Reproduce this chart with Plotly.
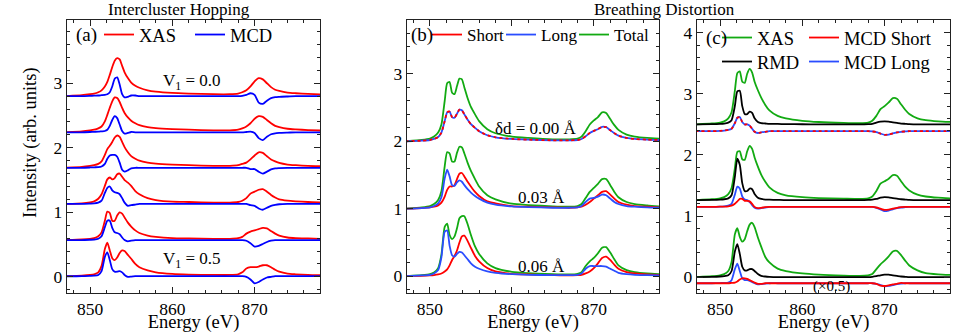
import plotly.graph_objects as go

SERIF = "Liberation Serif"

# energy grid (eV), shared by every curve
energy = [847, 849, 850, 850.5, 851, 851.4, 851.8, 852.1, 852.4, 852.7, 853.0, 853.3,
          853.6, 853.9, 854.2, 854.6, 855.0, 855.5, 856, 857, 858, 860, 862, 865,
          867, 868, 868.5, 869, 869.5, 870, 870.5, 871, 871.5, 872, 872.5, 873, 874,
          875, 876.5, 878]

# ---- (a) Intercluster hopping: V1 = 0.0 (top) ... 0.5 (bottom)
hop_offsets = [2.80, 2.24, 1.69, 1.13, 0.57, 0.01]
hop_xas = [
    [0, .015, .03, .04, .06, .09, .15, .22, .33, .45, .55, .59, .57, .47, .37, .28, .21, .16, .13, .09, .07, .05, .04, .03,
     .03, .04, .06, .09, .15, .23, .28, .26, .20, .14, .10, .08, .055, .045, .035, .028],
    [0, .015, .03, .04, .06, .09, .17, .27, .38, .48, .54, .53, .47, .38, .30, .23, .18, .14, .11, .08, .065, .05, .04, .03,
     .03, .04, .06, .09, .14, .21, .25, .24, .19, .14, .10, .08, .055, .045, .035, .028],
    [0, .015, .03, .04, .06, .10, .20, .29, .34, .40, .47, .50, .48, .40, .32, .24, .18, .14, .11, .08, .065, .05, .04, .03,
     .03, .04, .06, .08, .13, .19, .24, .23, .18, .13, .10, .075, .05, .04, .03, .025],
    [0, .01, .025, .04, .08, .15, .28, .38, .41, .38, .40, .46, .47, .42, .37, .33, .28, .20, .15, .09, .06, .035, .03, .02,
     .02, .03, .05, .09, .16, .19, .22, .23, .19, .14, .10, .07, .05, .04, .03, .025],
    [0, .01, .02, .03, .06, .12, .30, .44, .42, .30, .30, .38, .43, .41, .35, .27, .21, .15, .11, .07, .05, .03, .025, .02,
     .02, .03, .05, .10, .13, .15, .17, .19, .18, .14, .10, .07, .04, .03, .025, .02],
    [0, .01, .02, .03, .06, .16, .42, .52, .40, .28, .25, .29, .36, .40, .39, .33, .27, .19, .14, .09, .06, .035, .025, .02,
     .02, .03, .06, .12, .14, .14, .15, .17, .17, .14, .10, .07, .04, .03, .02, .015],
]
hop_mcd = [
    [0, 0, .005, .008, .01, .015, .02, .03, .06, .15, .27, .29, .18, .03, -.02, -.01, .01, .01, 0, 0, 0, 0, 0, 0,
     0, 0, .005, .02, .045, .02, -.10, -.12, -.07, -.03, -.015, -.01, -.005, 0, 0, 0],
    [0, 0, .005, .008, .01, .015, .02, .04, .10, .19, .25, .22, .12, .02, -.02, -.01, .005, 0, 0, 0, 0, 0, 0, 0,
     0, 0, 0, .005, .01, -.01, -.09, -.12, -.07, -.03, -.015, -.01, -.005, 0, 0, 0],
    [0, 0, .005, .008, .01, .02, .06, .14, .19, .20, .20, .17, .08, -.03, -.06, -.04, -.01, 0, 0, 0, 0, 0, 0, 0,
     0, 0, 0, 0, -.02, -.02, -.06, -.09, -.06, -.025, -.01, -.005, 0, 0, 0, 0],
    [0, 0, .005, .008, .02, .05, .17, .25, .27, .21, .18, .17, .15, .09, .02, -.03, -.02, -.01, 0, 0, 0, 0, 0, 0,
     0, 0, 0, 0, -.02, -.03, -.07, -.09, -.06, -.03, -.015, -.005, 0, 0, 0, 0],
    [0, 0, .005, .008, .02, .06, .20, .30, .30, .19, .12, .11, .09, .04, 0, -.02, -.01, 0, 0, 0, 0, 0, 0, 0,
     0, 0, 0, -.01, -.05, -.10, -.09, -.06, -.03, -.01, 0, 0, 0, 0, 0, 0],
    [0, 0, .005, .008, .02, .08, .30, .37, .25, .11, .07, .07, .08, .06, .02, -.01, -.005, 0, 0, 0, 0, 0, 0, 0,
     0, 0, 0, -.01, -.05, -.11, -.09, -.05, -.02, -.01, 0, 0, 0, 0, 0, 0],
]
hop_labels = ["V<sub>1</sub> = 0.0", "V<sub>1</sub> = 0.5"]

# ---- (b) Breathing distortion: dd = 0.00, 0.03, 0.06 A
br_offsets = [2.0, 1.0, 0.0]
br_short = [
    [0, .01, .02, .035, .065, .13, .30, .43, .44, .36, .35, .41, .47, .46, .40, .32, .255, .20, .15, .09, .06, .035, .025, .015,
     .015, .02, .035, .075, .125, .155, .18, .215, .21, .165, .12, .085, .05, .035, .025, .02],
    [0, .01, .02, .03, .05, .09, .18, .28, .33, .33, .35, .44, .52, .53, .48, .40, .33, .25, .19, .11, .08, .04, .03, .02,
     .015, .02, .03, .06, .10, .15, .20, .25, .26, .21, .15, .10, .06, .04, .03, .02],
    [0, .005, .01, .015, .025, .04, .07, .10, .16, .24, .30, .38, .50, .59, .60, .52, .42, .30, .22, .12, .07, .035, .025, .015,
     .01, .015, .02, .04, .07, .12, .19, .27, .29, .24, .17, .11, .06, .04, .025, .02],
]
br_long = [
    br_short[0],
    [0, .01, .02, .04, .08, .17, .45, .58, .48, .35, .34, .39, .42, .40, .35, .29, .24, .19, .15, .09, .06, .035, .025, .015,
     .015, .02, .04, .10, .15, .16, .18, .21, .20, .15, .10, .07, .04, .03, .02, .015],
    [0, .01, .02, .04, .09, .28, .66, .68, .45, .31, .29, .33, .36, .35, .31, .25, .19, .14, .11, .07, .05, .03, .02, .015,
     .015, .02, .04, .11, .15, .15, .15, .15, .14, .11, .08, .05, .03, .02, .015, .01],
]
br_total = [
    [0, .02, .04, .07, .13, .25, .60, .86, .88, .72, .70, .82, .93, .92, .80, .64, .51, .40, .30, .18, .12, .07, .05, .03,
     .03, .04, .07, .15, .25, .31, .36, .43, .42, .33, .24, .17, .10, .07, .05, .04],
    [0, .02, .04, .07, .13, .26, .63, .84, .82, .70, .70, .83, .92, .91, .82, .68, .56, .44, .33, .20, .14, .075, .055, .035,
     .03, .04, .07, .16, .25, .31, .37, .44, .44, .35, .25, .17, .10, .07, .05, .035],
    [0, .015, .03, .055, .12, .32, .73, .78, .61, .55, .59, .71, .86, .89, .89, .77, .61, .44, .33, .19, .12, .065, .045, .03,
     .025, .035, .06, .15, .22, .27, .34, .42, .43, .35, .25, .16, .09, .06, .04, .03],
]
br_labels = ["\u03b4d = 0.00 \u00c5", "0.03 \u00c5", "0.06 \u00c5"]

# ---- (c) XAS, RMD and MCD (x0.5) for the same distortions
c_xas_offsets = [2.50, 1.26, 0.0]
c_mcd_offsets = [2.39, 1.15, -0.10]
c_xas = [
    [0, .015, .03, .05, .10, .20, .55, .84, .87, .70, .68, .83, .91, .85, .70, .56, .44, .32, .23, .14, .10, .06, .04, .025,
     .02, .03, .06, .14, .25, .30, .36, .43, .42, .33, .24, .17, .10, .07, .05, .04],
    [0, .015, .03, .05, .10, .20, .52, .79, .80, .67, .66, .80, .89, .84, .70, .55, .42, .30, .21, .12, .08, .05, .035, .025,
     .02, .03, .06, .15, .27, .31, .35, .41, .40, .31, .22, .16, .09, .06, .04, .03],
    [0, .015, .03, .05, .10, .25, .70, .80, .66, .58, .62, .75, .86, .89, .82, .65, .50, .33, .24, .14, .10, .06, .04, .025,
     .02, .03, .05, .13, .21, .27, .34, .42, .43, .36, .27, .19, .11, .065, .045, .035],
]
c_rmd = [
    [0, .005, .01, .015, .03, .07, .30, .54, .55, .30, .17, .17, .21, .19, .10, .04, .02, .015, .01, .008, .005, .003, 0, 0,
     0, .005, .01, .03, .045, .05, .045, .035, .025, .015, .01, .005, 0, 0, 0, 0],
    [0, .005, .01, .015, .03, .08, .38, .68, .58, .28, .15, .15, .19, .18, .10, .04, .02, .01, .01, .005, 0, 0, 0, 0,
     0, .005, .01, .02, .04, .05, .045, .035, .025, .015, .01, .005, 0, 0, 0, 0],
    [0, .005, .01, .015, .03, .10, .42, .54, .38, .17, .11, .11, .13, .13, .10, .05, .02, .01, .005, 0, 0, 0, 0, 0,
     0, 0, .005, .015, .03, .04, .04, .03, .02, .01, .005, 0, 0, 0, 0, 0],
]
c_mcd_short = [
    [0, 0, .005, .01, .02, .04, .13, .22, .23, .15, .11, .11, .09, .04, -.01, -.03, -.02, -.01, 0, 0, 0, 0, 0, 0,
     0, 0, -.005, -.015, -.04, -.06, -.055, -.035, -.02, -.01, -.005, 0, 0, 0, 0, 0],
    [0, 0, .003, .005, .01, .02, .05, .09, .13, .13, .10, .10, .09, .05, 0, -.02, -.015, -.005, 0, 0, 0, 0, 0, 0,
     0, 0, 0, -.01, -.03, -.05, -.045, -.03, -.015, -.005, 0, 0, 0, 0, 0, 0],
    [0, 0, 0, 0, 0, .005, .01, .03, .06, .08, .08, .07, .05, .03, .01, -.01, -.01, 0, 0, 0, 0, 0, 0, 0,
     0, 0, 0, -.01, -.04, -.045, -.035, -.02, -.01, .005, 0, 0, 0, 0, 0, 0],
]
c_mcd_long = [
    c_mcd_short[0],
    [0, 0, .005, .01, .02, .05, .20, .33, .30, .17, .12, .11, .08, .03, -.015, -.03, -.02, -.01, 0, 0, 0, 0, 0, 0,
     0, 0, 0, -.015, -.04, -.07, -.06, -.04, -.02, -.01, -.005, 0, 0, 0, 0, 0],
    [0, 0, .003, .005, .01, .05, .23, .32, .20, .08, .05, .05, .04, .02, 0, -.02, -.015, -.005, 0, 0, 0, 0, 0, 0,
     0, 0, 0, -.01, -.03, -.05, -.045, -.03, -.015, -.005, 0, 0, 0, 0, 0, 0],
]

RED = "#ff0000"
BLUE = "#0000ff"
LBLUE = "#2a4dff"
GREEN = "#12aa12"
BLACK = "#000000"


def shifted(vals, off):
    return [off + v for v in vals]


def line(x, y, color, ax, dash="solid", width=1.8):
    return go.Scatter(x=x, y=y, mode="lines", showlegend=False,
                      line=dict(color=color, width=width, dash=dash, shape="spline", smoothing=0.6),
                      xaxis="x" + ax, yaxis="y" + ax, hoverinfo="skip")


fig = go.Figure()

# panel a
for i, off in enumerate(hop_offsets):
    fig.add_trace(line(energy, shifted(hop_xas[i], off), RED, ""))
    fig.add_trace(line(energy, shifted(hop_mcd[i], off), BLUE, ""))

# panel b
for i, off in enumerate(br_offsets):
    fig.add_trace(line(energy, shifted(br_total[i], off), GREEN, "2"))
    if i == 0:
        fig.add_trace(line(energy, shifted(br_long[i], off), LBLUE, "2"))
        fig.add_trace(line(energy, shifted(br_short[i], off), RED, "2", dash="3px,3px"))
    else:
        fig.add_trace(line(energy, shifted(br_short[i], off), RED, "2"))
        fig.add_trace(line(energy, shifted(br_long[i], off), LBLUE, "2"))

# panel c
for i in range(3):
    fig.add_trace(line(energy, shifted(c_xas[i], c_xas_offsets[i]), GREEN, "3"))
    fig.add_trace(line(energy, shifted(c_rmd[i], c_xas_offsets[i]), BLACK, "3"))
    fig.add_trace(line(energy, shifted(c_mcd_long[i], c_mcd_offsets[i]), LBLUE, "3"))
    fig.add_trace(line(energy, shifted(c_mcd_short[i], c_mcd_offsets[i]), RED, "3",
                       dash="3px,3px" if i == 0 else "solid"))

W, H = 969, 333


def px(x):
    return x / W


def py(y):
    return 1 - y / H


# one legend per entry so each can sit where the original has it
# (name, colour, axis suffix, text left px, centre y px, font size)
legend_items = [("XAS", RED, "", 145, 35, 18.5), ("MCD", BLUE, "", 236, 35, 18.5),
                ("Short", RED, "2", 473, 35, 17), ("Long", LBLUE, "2", 547, 35, 17),
                ("Total", GREEN, "2", 620, 35, 17),
                ("XAS", GREEN, "3", 763, 38, 18.5), ("MCD Short", RED, "3", 850, 38, 18.5),
                ("RMD", BLACK, "3", 763, 62, 18.5), ("MCD Long", LBLUE, "3", 850, 62, 18.5)]
legend_layout = {}
for k, (nm, col, ax, tx, ty, fs) in enumerate(legend_items):
    lid = "legend" if k == 0 else "legend%d" % (k + 1)
    fig.add_trace(go.Scatter(x=[None], y=[None], mode="lines", name=nm, legend=lid, showlegend=True,
                             line=dict(color=col, width=1.8), xaxis="x" + ax, yaxis="y" + ax))
    legend_layout[lid] = dict(x=px(tx - 46), y=py(ty), xanchor="left", yanchor="middle",
                              bgcolor="rgba(0,0,0,0)", borderwidth=0, itemwidth=30,
                              font=dict(family=SERIF, size=fs, color="black"))

ydom = [py(293), py(20)]
xdoms = [[px(67), px(320)], [px(407), px(659)], [px(697), px(950)]]
yranges = [[-0.25, 3.98], [-0.25, 3.8], [-0.26, 4.21]]

axis_common = dict(showline=True, linecolor="#222", linewidth=1.3, mirror="allticks", ticks="inside",
                   ticklen=6, tickwidth=1, tickcolor="#222", showgrid=False, zeroline=False,
                   automargin=False, tickfont=dict(family=SERIF, size=17.5, color="black"))

for k in range(3):
    sx = "" if k == 0 else str(k + 1)
    fig.layout["xaxis" + sx] = dict(axis_common, domain=xdoms[k], range=[847.2, 877.95], anchor="y" + sx,
                                    tickvals=[850, 860, 870],
                                    minor=dict(dtick=2, tick0=846, ticks="inside", ticklen=3, tickcolor="#222"),
                                    title=dict(text="Energy (eV)", font=dict(family=SERIF, size=18.5, color="black"),
                                               standoff=1))
    fig.layout["yaxis" + sx] = dict(axis_common, domain=ydom, range=yranges[k], anchor="x" + sx,
                                    dtick=1, tick0=0,
                                    minor=dict(dtick=0.2, tick0=0, ticks="inside", ticklen=3, tickcolor="#222"))

fig.update_layout(**legend_layout)


def note(text, x, y, size, xref="paper", yref="paper", angle=0):
    if xref == "paper":
        x, y = px(x), py(y)
    return dict(text=text, x=x, y=y, xref=xref, yref=yref, showarrow=False, textangle=angle,
                xanchor="center", yanchor="middle", font=dict(family=SERIF, size=size, color="black"))


ann = [note("Intercluster Hopping", 179, 10, 17), note("Breathing Distortion", 664, 10, 17),
       note("(a)", 86, 35, 19), note("(b)", 422, 35, 19), note("(c)", 716, 38, 19),
       note("Intensity (arb. units)", 30, 143, 18.5, angle=-90),
       note(hop_labels[0], 862.4, 3.02, 17, "x", "y"), note(hop_labels[1], 862.4, 0.26, 17, "x", "y"),
       note(br_labels[0], 863.0, 2.19, 17, "x2", "y2"), note(br_labels[1], 863.6, 1.16, 17, "x2", "y2"),
       note(br_labels[2], 863.6, 0.15, 17, "x2", "y2"),
       note("(\u00d70.5)", 863.6, -0.15, 15, "x3", "y3")]

fig.update_layout(width=W, height=H, margin=dict(l=0, r=0, t=0, b=0, autoexpand=False), plot_bgcolor="white",
                  paper_bgcolor="white", annotations=ann)

# the page's default 8px body margin would push the figure off the window
fig.write_html("out.html", config={"displayModeBar": False},
               post_script="document.body.style.margin='0px';")
